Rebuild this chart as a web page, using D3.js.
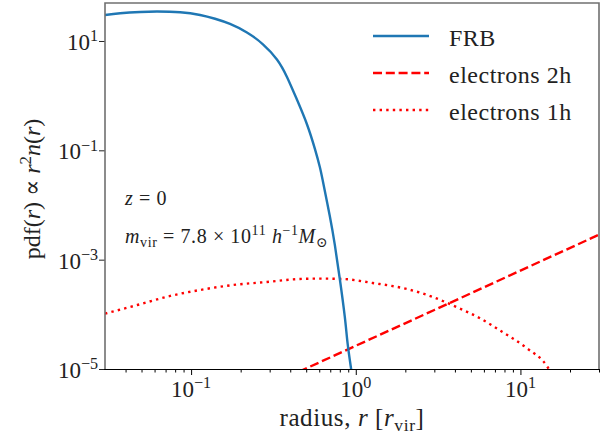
<!DOCTYPE html>
<html><head><meta charset="utf-8">
<script src="https://cdn.jsdelivr.net/npm/d3@7"></script>
<style>
body{margin:0;background:#fff}
svg{display:block}
text{font-family:"Liberation Serif","DejaVu Serif","Noto Serif",serif;fill:#222}
</style>
</head><body>
<svg id="c" width="610" height="438"></svg>
<script>
// ---- data ----
const frbR = [0.0300, 0.0371, 0.0491, 0.0622, 0.0858, 0.1134, 0.1397, 0.1723, 0.2183, 0.2731, 0.3321, 0.3821, 0.4389, 0.5046, 0.5647, 0.6050, 0.6310, 0.6954, 0.7462, 0.8001, 0.8579, 0.8944, 0.939, 0.959];
const frbV = [29.9, 32.1, 33.9, 34.5, 33.5, 29.9, 25.5, 20.5, 14.3, 8.7, 4.59, 2.20, 0.851, 0.303, 0.106, 0.0496, 0.0275, 6.30e-3, 1.86e-3, 4.43e-4, 8.95e-5, 2.75e-5, 9.6e-6, 6.0e-6];

const e2hR = [0.45, 1, 3, 10, 30];
const e2hV = [8.87e-6, 2.66e-5, 1.20e-4, 6.31e-4, 2.86e-3];

const e1hR = [0.03, 0.0471, 0.0747, 0.1135, 0.180, 0.289, 0.458, 0.6, 0.834, 1.268, 2.04, 2.93, 4.09, 5.64, 7.78, 10.9, 14.6, 15.5];
const e1hV = [1.03e-4, 1.48e-4, 2.17e-4, 2.79e-4, 3.44e-4, 3.91e-4, 4.43e-4, 4.5e-4, 4.43e-4, 3.74e-4, 2.91e-4, 2.08e-4, 1.36e-4, 8.57e-5, 4.75e-5, 2.42e-5, 1.09e-5, 8e-6];

const seriesNames = ["FRB", "electrons 2h", "electrons 1h"];
const xMajorTicks = [0.1, 1, 10];
const xMajorExp = ["\u22121", "0", "1"];
const xMinorTicks = [0.04,0.05,0.06,0.07,0.08,0.09,0.2,0.3,0.4,0.5,0.6,0.7,0.8,0.9,2,3,4,5,6,7,8,9,20,30];
const yTicks = [10, 0.1, 1e-3, 1e-5];
const yTickExp = ["1", "\u22121", "\u22123", "\u22125"];

// ---- layout ----
const L = 105, R = 599, T = 3, B = 369;
const svg = d3.select("#c");
const x = d3.scaleLog().domain([0.03, 30]).range([L, R]);
const y = d3.scaleLog().domain([1e-5, 49.5]).range([B, T]);

svg.append("defs").append("clipPath").attr("id","clip")
  .append("rect").attr("x",L).attr("y",T).attr("width",R-L).attr("height",B-T);

// rich-text helper
function rich(sel, segs, base){
  let off = 0;
  segs.forEach(s=>{
    const kind = s[1]||"rm";
    let target = 0, fs = base;
    if(kind==="sup"){ target = -base*0.38; fs = base*0.7; }
    if(kind==="sub"){ target = base*0.2; fs = base*0.7; }
    const ts = sel.append("tspan").text(s[0]).attr("font-size", fs);
    if(target!==off){ ts.attr("dy", target-off); off = target; }
    if(kind==="it") ts.attr("font-style","italic");
  });
}

// ---- lines ----
const lineG = svg.append("g").attr("clip-path","url(#clip)");
const mk = (R_, V_) => R_.map((r,i)=>[r, V_[i]]);
const lineSmooth = d3.line().x(d=>x(d[0])).y(d=>y(d[1])).curve(d3.curveNatural);
const lineCurve = d3.line().x(d=>x(d[0])).y(d=>y(d[1])).curve(d3.curveMonotoneX);
const lineStraight = d3.line().x(d=>x(d[0])).y(d=>y(d[1]));

lineG.append("path").datum(mk(e1hR,e1hV)).attr("d",lineCurve)
  .attr("fill","none").attr("stroke","#ff0000").attr("stroke-width",2.4).attr("stroke-dasharray","2.4,4.2");
lineG.append("path").datum(mk(e2hR,e2hV)).attr("d",lineStraight)
  .attr("fill","none").attr("stroke","#ff0000").attr("stroke-width",2.4).attr("stroke-dasharray","9,3.8");
lineG.append("path").datum(mk(frbR,frbV)).attr("d",lineSmooth)
  .attr("fill","none").attr("stroke","#1f77b4").attr("stroke-width",2.4);

// ---- axes ----
const xAxisG = svg.append("g").attr("transform",`translate(0,${B})`);
xAxisG.call(d3.axisBottom(x).tickValues(xMajorTicks).tickSize(6).tickFormat(""));
xAxisG.append("g").call(d3.axisBottom(x).tickValues(xMinorTicks).tickSize(3.5).tickFormat(""));
xAxisG.selectAll(".domain").remove();
xAxisG.selectAll("line").attr("stroke","#000").attr("stroke-width",1);

const yAxisG = svg.append("g").attr("transform",`translate(${L},0)`);
yAxisG.call(d3.axisLeft(y).tickValues(yTicks).tickSize(6).tickFormat(""));
yAxisG.selectAll(".domain").remove();
yAxisG.selectAll("line").attr("stroke","#222").attr("stroke-width",1);

// spines
svg.append("path").attr("d",`M${L},${B}V${T}H${R}V${B}`).attr("fill","none").attr("stroke","#707070").attr("stroke-width",1.6);
svg.append("line").attr("x1",L-0.8).attr("x2",R+0.8).attr("y1",B+0.5).attr("y2",B+0.5).attr("stroke","#000").attr("stroke-width",1.2);

// tick labels
xMajorTicks.forEach((v,i)=>{
  const t = svg.append("text").attr("x", x(v)).attr("y", 397).attr("text-anchor","middle");
  rich(t, [["10"],[xMajorExp[i],"sup"]], 23);
});
yTicks.forEach((v,i)=>{
  const t = svg.append("text").attr("x", 98).attr("y", y(v)+9).attr("text-anchor","end");
  rich(t, [["10"],[yTickExp[i],"sup"]], 23);
});

// axis labels
const xl = svg.append("text").attr("x", (L+R)/2).attr("y", 426).attr("text-anchor","middle").attr("letter-spacing",0.6);
rich(xl, [["radius,  "],["r","it"],[" ["],["r","it"],["vir","sub"],["]"]], 25);

const yl = svg.append("text").attr("transform","translate(40,189) rotate(-90)").attr("text-anchor","middle");
rich(yl, [["pdf("],["r","it"],[") \u221D "],["r","it"],["2","sup"],["n","it"],["("],["r","it"],[")"]], 24);

// annotations
const a1 = svg.append("text").attr("x",125).attr("y",205).attr("letter-spacing",0.6);
rich(a1, [["z","it"],[" = 0"]], 20);
const a2 = svg.append("text").attr("x",125).attr("y",243).attr("letter-spacing",0.6);
rich(a2, [["m","it"],["vir","sub"],[" = 7.8 \u00D7 10"],["11","sup"],[" "],["h","it"],["\u22121","sup"],["M","it"],["\u2299","sub"]], 20);

// legend
const legY = [36, 73, 110];
const legStyle = [
  {c:"#1f77b4", d:null},
  {c:"#ff0000", d:"9,3.8"},
  {c:"#ff0000", d:"2.4,4.2"}
];
seriesNames.forEach((n,i)=>{
  const ln = svg.append("line").attr("x1",373).attr("x2",429).attr("y1",legY[i]).attr("y2",legY[i])
    .attr("stroke",legStyle[i].c).attr("stroke-width",2.4);
  if(legStyle[i].d) ln.attr("stroke-dasharray",legStyle[i].d);
  svg.append("text").attr("x",449).attr("y",legY[i]+10).attr("font-size",24).attr("letter-spacing",0.5).text(n);
});
</script>
</body></html>
